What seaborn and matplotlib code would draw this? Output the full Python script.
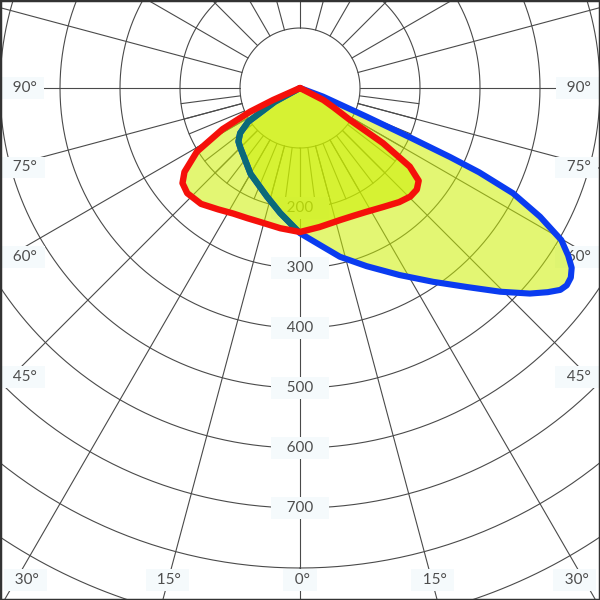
import numpy as np
import matplotlib
matplotlib.use('Agg')
import matplotlib.pyplot as plt
import seaborn as sns

# Luminous intensity (cd) vs angle from nadir (deg), positive = right side
red_angle = [-90, -68, -66, -64.6, -62, -58.3, -54, -51, -47, -40.5, -34, -28, -22, -16.7, -8, 0,
             8, 17, 23, 28, 35, 41, 45.5, 49, 52, 54.4, 56.4, 57.4, 60, 62.8, 64, 90]
red_cd = [0, 0, 49, 92, 146, 202, 238, 252, 257, 254, 244, 237, 234, 233, 236, 240,
          234, 230, 231, 234, 242, 252, 258, 258, 251, 225, 166, 99, 65, 44, 0, 0]

blue_angle = [-90, -66, -61.3, -58.3, -56.9, -53, -49, -45.6, -30, -17, -9, 0, 7.3, 13.3, 20.5, 28,
              34.5, 40, 44.5, 48.2, 50.5, 52.2, 53.5, 55, 56.5, 58, 59.8, 61.8, 63.7, 64.8,
              65.3, 65.8, 66.7, 69.5, 72, 90]
blue_cd = [0, 0, 48, 75, 103, 125, 136, 140, 165, 189, 211, 242, 264, 289, 317, 353,
           392, 433, 476, 514, 535, 549, 553, 551, 543, 527, 504, 454, 396, 330,
           275, 203, 121, 41, 0, 0]

ring_values = [100, 200, 300, 400, 500, 600, 700, 800, 900, 1000]
ring_labels = [200, 300, 400, 500, 600, 700]
angle_texts = ['90°', '75°', '60°', '45°', '30°', '15°', '0°']

sns.set_style('white')
plt.rcParams['font.family'] = ['Lato', 'DejaVu Sans']

fig = plt.figure(figsize=(6, 6), dpi=100)
# polar origin sits near the top of the picture, 100 cd = 60 px
ax = fig.add_axes([-0.5, -88 / 600, 2.0, 2.0], projection='polar')
ax.set_theta_zero_location('S')
ax.set_theta_direction(1)
ax.set_ylim(0, 1000)
ax.grid(False)
ax.set_xticks([])
ax.set_yticks([])
ax.spines['polar'].set_visible(False)

grid_kw = dict(color='#4a4a4a', lw=0.8, zorder=1)
full = np.linspace(0, 2 * np.pi, 721)
for r in ring_values:
    ax.plot(full, np.full_like(full, r), **grid_kw)
for a in range(0, 360, 15):
    ax.plot(np.deg2rad([a, a]), [100, 1000], **grid_kw)
for a in np.arange(-82.5, 83, 7.5):
    ax.plot(np.deg2rad([a, a]), [100, 200], **grid_kw)

lab_kw = dict(ha='center', va='center', fontsize=11, color='#4d4d4d',
              zorder=2, bbox=dict(boxstyle='square,pad=0.25', fc='#f5fafc', ec='none'))
for v in ring_labels:
    ax.text(0, v, f'   {v}   ', **lab_kw)

# (angle, radius) placement of the angle labels, left side; right side mirrored
angle_pos = [(-90, 462), (-74, 480), (-58.6, 541), (-43.8, 667), (-29.2, 939), (-15.1, 849), (0, 820)]
for (a, r), t in zip(angle_pos, angle_texts):
    ax.text(np.deg2rad(a), r, f'  {t} ', **lab_kw)
    if a != 0:
        ax.text(np.deg2rad(-a), r, f'  {t} ', **lab_kw)

fill_col = '#ccf000'
ax.fill(np.deg2rad(blue_angle), blue_cd, color=fill_col, alpha=0.55, lw=0, zorder=3)
red_patch = ax.fill(np.deg2rad(red_angle), red_cd, color=fill_col, alpha=0.55, lw=0, zorder=3)[0]

line_kw = dict(sort=False, estimator=None, ax=ax, solid_joinstyle='round', solid_capstyle='round')
sns.lineplot(x=np.deg2rad(blue_angle), y=blue_cd, color='#0a3cf0', linewidth=4.4, zorder=4, **line_kw)
# part of the blue curve seen through the red-plane fill
sns.lineplot(x=np.deg2rad(blue_angle), y=blue_cd, color='#0b6a78', linewidth=4.4, zorder=4.5, **line_kw)
ax.lines[-1].set_clip_path(red_patch)
sns.lineplot(x=np.deg2rad(red_angle), y=red_cd, color='#f5100a', linewidth=4.6, zorder=5, **line_kw)
ax.set_xlabel('')
ax.set_ylabel('')
ax.set_ylim(0, 1000)

fig.add_artist(plt.Rectangle((0, 0), 1, 1, transform=fig.transFigure, fill=False,
                             ec='#333333', lw=2.5))
fig.savefig('out.png', dpi=100)
